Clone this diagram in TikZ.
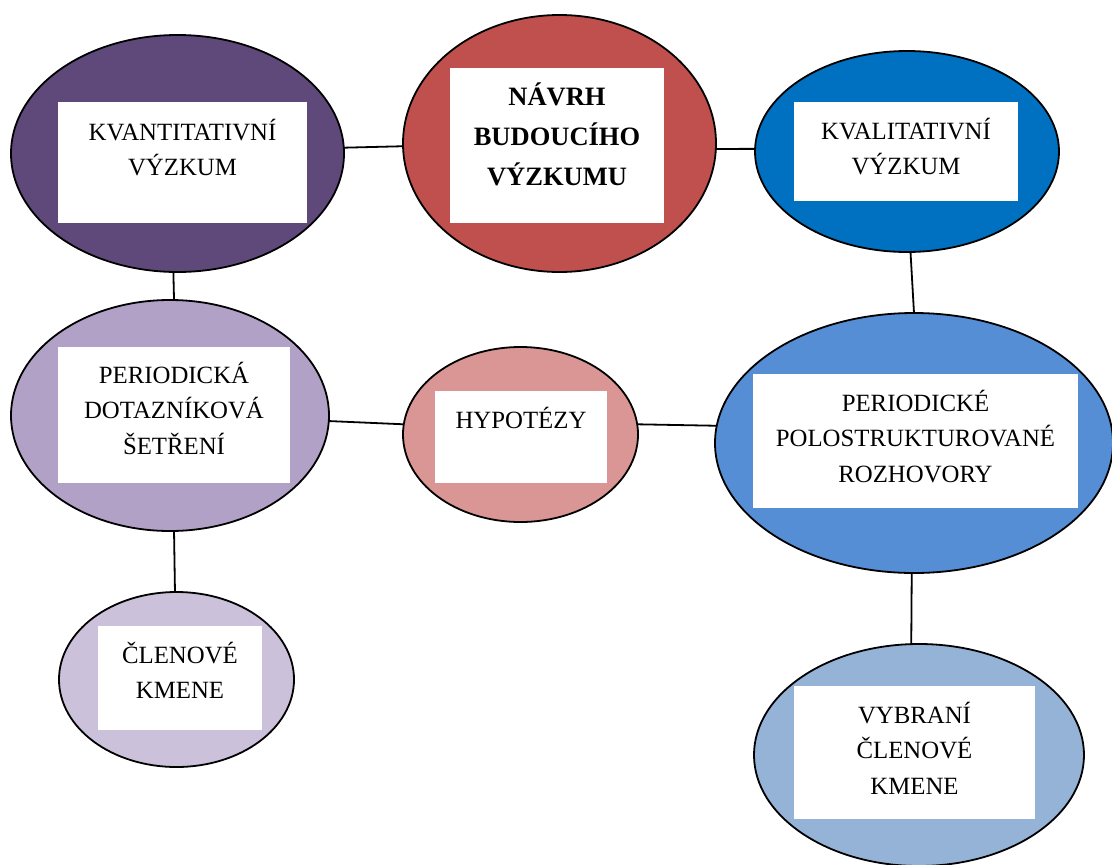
\documentclass[tikz,border=0pt]{standalone}
\usepackage{fontspec}
\setmainfont{Liberation Serif}
\usetikzlibrary{shapes.geometric}
\definecolor{cKvan}{HTML}{5F497A}
\definecolor{cNavrh}{HTML}{C0504D}
\definecolor{cKval}{HTML}{0070C0}
\definecolor{cDot}{HTML}{B2A1C7}
\definecolor{cHyp}{HTML}{D99694}
\definecolor{cRoz}{HTML}{558ED5}
\definecolor{cClen}{HTML}{CCC1DA}
\definecolor{cVyb}{HTML}{95B3D7}
\newcommand{\mylines}[2]{\parbox[t]{#1}{\centering #2}}
\tikzset{
  bub/.style={ellipse, draw=black, line width=1.8pt, inner sep=0pt, outer sep=0pt},
  wbox/.style={rectangle, fill=white, draw=none, inner sep=0pt, outer sep=0pt},
  txt/.style={anchor=base, inner sep=0pt, outer sep=0pt, font=\fontsize{24.8}{35.8}\selectfont},
  btxt/.style={anchor=base, inner sep=0pt, outer sep=0pt, font=\fontsize{26.5}{40}\selectfont\bfseries},
  link/.style={draw=black, line width=1.8pt}
}
\begin{document}
\begin{tikzpicture}[x=1pt,y=-1pt]
\fill[white] (0,0) rectangle (1112,865);
\useasboundingbox (0,0) rectangle (1112,865);
% ellipses
\node[bub, fill=cKvan, minimum width=333pt, minimum height=237pt] (e1) at (177.5,153.5) {};
\node[bub, fill=cNavrh, minimum width=313pt, minimum height=257pt] (e2) at (559.5,143.5) {};
\node[bub, fill=cKval, minimum width=304pt, minimum height=201pt] (e3) at (907,151.5) {};
\node[bub, fill=cDot, minimum width=318pt, minimum height=231pt] (e4) at (170,415.5) {};
\node[bub, fill=cHyp, minimum width=235pt, minimum height=175pt] (e5) at (520.5,434.5) {};
\node[bub, fill=cRoz, minimum width=398pt, minimum height=260pt] (e6) at (914,443) {};
\node[bub, fill=cClen, minimum width=235pt, minimum height=175pt] (e7) at (176.5,679.5) {};
\node[bub, fill=cVyb, minimum width=330pt, minimum height=222pt] (e8) at (919,755) {};
% white boxes
\node[wbox, minimum width=249pt, minimum height=121pt] (r1) at (182.5,162.5) {};
\node[wbox, minimum width=214pt, minimum height=155pt] (r2) at (557,145.5) {};
\node[wbox, minimum width=224pt, minimum height=99pt] (r3) at (906,151.5) {};
\node[wbox, minimum width=232pt, minimum height=136pt] (r4) at (174,415) {};
\node[wbox, minimum width=172pt, minimum height=92pt] (r5) at (521,437) {};
\node[wbox, minimum width=325pt, minimum height=134pt] (r6) at (915.5,441) {};
\node[wbox, minimum width=164pt, minimum height=104pt] (r7) at (180,678) {};
\node[wbox, minimum width=241pt, minimum height=133pt] (r8) at (914.5,752.5) {};
% texts
\node[txt] (t1) at (182.5,140) {\mylines{249pt}{KVANTITATIVNÍ\\VÝZKUM}};
\node[btxt] (t2) at (557,105) {\mylines{214pt}{NÁVRH\\BUDOUCÍHO\\VÝZKUMU}};
\node[txt] (t3) at (906,139) {\mylines{224pt}{KVALITATIVNÍ\\VÝZKUM}};
\node[txt] (t4) at (174,383) {\mylines{232pt}{PERIODICKÁ\\DOTAZNÍKOVÁ\\ŠETŘENÍ}};
\node[txt] (t5) at (521,428) {\mylines{172pt}{HYPOTÉZY}};
\node[txt] (t6) at (915.5,411) {\mylines{325pt}{PERIODICKÉ\\POLOSTRUKTUROVANÉ\\ROZHOVORY}};
\node[txt] (t7) at (180,663) {\mylines{164pt}{ČLENOVÉ\\KMENE}};
\node[txt] (t8) at (914.5,723) {\mylines{241pt}{VYBRANÍ\\ČLENOVÉ\\KMENE}};
% connectors
\draw[link] (e1.2) -- (e2.181);
\draw[link] (e2.358) -- (e3.179);
\draw[link] (e1.268) -- (e4.88);
\draw[link] (e3.272) -- (e6.90);
\draw[link] (e4.358) -- (e5.175);
\draw[link] (e5.5) -- (e6.175);
\draw[link] (e4.272) -- (e7.91);
\draw[link] (e6.269) -- (e8.94);
\end{tikzpicture}
\end{document}
